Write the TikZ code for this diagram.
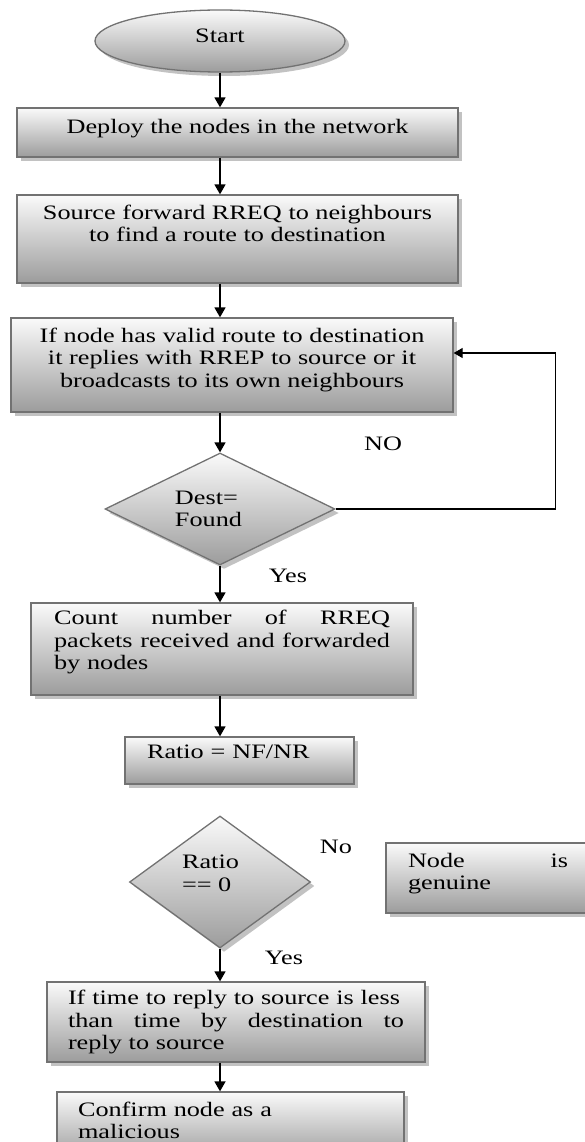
\documentclass[tikz,border=0pt]{standalone}
\usepackage{fontspec}
\setmainfont[FakeStretch=1.28]{Liberation Serif}
\usetikzlibrary{shapes.geometric,shadows,arrows.meta}
\definecolor{Edge}{HTML}{727272}
\definecolor{Top}{HTML}{FAFAFA}
\definecolor{Bottom}{HTML}{9C9C9C}
\definecolor{Shade}{HTML}{C2C2C2}
\newcommand{\lowstrut}[1]{\rule[-#1pt]{0pt}{#1pt}}

\begin{document}
\begin{tikzpicture}[x=1pt,y=-1pt,
    font=\fontsize{20.5}{22.5}\selectfont,
    grad/.style={top color=Top,bottom color=Bottom,draw=Edge,line width=1.3pt,
                 drop shadow={shadow xshift=4pt,shadow yshift=-4pt,fill=Shade,opacity=1}},
    term/.style={grad,ellipse,minimum width=250pt,minimum height=62pt},
    proc/.style={grad,rectangle,inner ysep=0pt,align=center},
    decision/.style={grad,diamond,aspect=1.4,inner sep=0pt,align=left},
    flow/.style={line width=1.6pt,-{Triangle[length=10pt,width=11pt]}},
    back/.style={line width=1.2pt},
    note/.style={inner sep=0pt}
  ]
    \useasboundingbox (0,0) rectangle (585,1142);
    \node[term] (start) at (220,41) {Start\lowstrut{11.5}};
    \node[proc,minimum width=441pt,minimum height=49pt] (deploy) at (237.5,132.5) {Deploy the nodes in the network\lowstrut{13}};
    \node[proc,minimum width=441pt,minimum height=88pt] (source) at (237.5,239) {Source forward RREQ to neighbours\\to find a route to destination\lowstrut{31}};
    \node[proc,minimum width=442pt,minimum height=94pt] (valid) at (232,365) {If node has valid route to destination\\it replies with RREP to source or it\\broadcasts to its own neighbours\lowstrut{15}};
    \node[decision,minimum width=230pt,minimum height=112pt] (dest) at (220,509) {Dest=\\Found\hspace*{23pt}};
    \node[proc,align=left,text width=336pt,minimum width=382pt,minimum height=92pt] (count) at (222,649) {Count\hfill number\hfill of\hfill RREQ\\packets\hfill received\hfill and\hfill forwarded\\by nodes\lowstrut{18}};
    \node[proc,align=left,text width=185pt,minimum width=229pt,minimum height=47pt] (ratio) at (239.5,760.5) {Ratio = NF/NR\lowstrut{18}};
    \node[decision,minimum width=181pt,minimum height=132pt] (rzero) at (220,882) {Ratio\hspace*{19pt}\\== 0\lowstrut{18}};
    \node[proc,align=left,text width=160pt,minimum width=204pt,minimum height=70pt] (genuine) at (488,878) {Node\hfill is\\genuine\lowstrut{13}};
    \node[proc,align=left,text width=336pt,minimum width=378pt,minimum height=80pt] (time) at (236,1022) {If time to reply to source is less\\than\hfill time\hfill by\hfill destination\hfill to\\reply to source};
    \node[proc,align=left,text width=305pt,minimum width=347pt,minimum height=68pt] (confirm) at (230.5,1126) {Confirm node as a\\malicious\lowstrut{11}};
    % branch labels
    \node[note] (no1) at (383,444) {NO};
    \node[note] (yes1) at (288,576) {Yes};
    \node[note] (no2) at (336,847) {No};
    \node[note] (yes2) at (284,958) {Yes};
    \foreach \a/\b in {start/deploy,deploy/source,source/valid,valid/dest,dest/count,count/ratio,rzero/time,time/confirm}
      \draw[flow] (\a.south -| start) -- (\b.north -| start);
    \draw[back,-{Triangle[length=9pt,width=10pt]}] (dest.east) -- ++(220pt,0pt) |- ([yshift=12pt]valid.east);
  \end{tikzpicture}
\end{document}
